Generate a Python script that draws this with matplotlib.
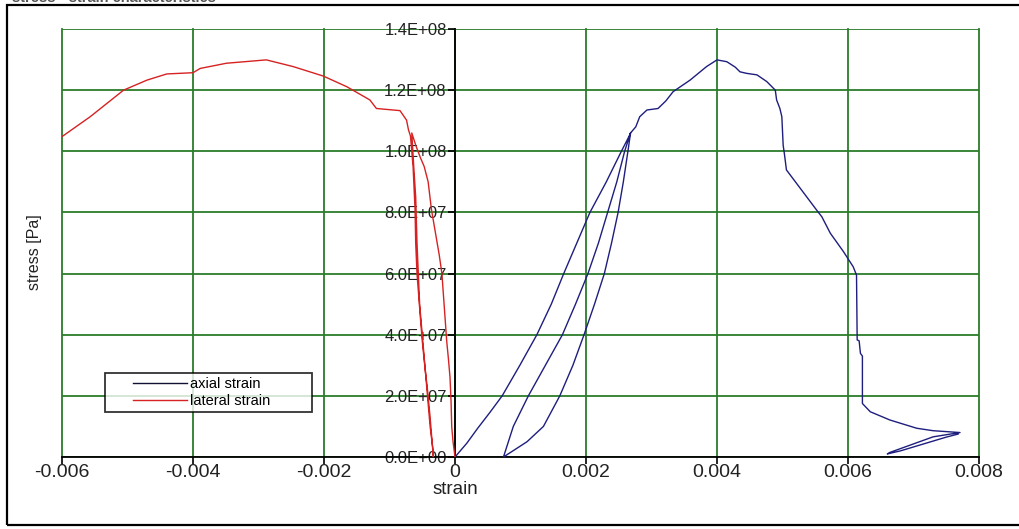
import matplotlib
matplotlib.use("Agg")
import matplotlib.pyplot as plt
from matplotlib.patches import Rectangle
from matplotlib.ticker import FuncFormatter
from matplotlib.legend_handler import HandlerLine2D
from matplotlib.lines import Line2D

plt.rcParams['font.family'] = ['Liberation Sans', 'DejaVu Sans']
plt.rcParams['axes.unicode_minus'] = False

# ---------------- data ----------------
axial_strain = [
    0.0, 0.00018, 0.00035, 0.00053, 0.00072, 0.00099, 0.00125, 0.00147, 0.00166,
    0.00186, 0.00206, 0.00231, 0.00254, 0.00266,
    0.00268, 0.00264, 0.00257, 0.00249, 0.00239, 0.00228, 0.00213, 0.00197,
    0.0018, 0.0016, 0.00135, 0.0011, 0.00074,
    0.00089, 0.00112, 0.00138, 0.00164, 0.00184, 0.00203, 0.00219, 0.00233,
    0.00247, 0.00259, 0.00268,
    0.00276, 0.00282, 0.00293, 0.0031, 0.00322, 0.00333, 0.00359, 0.00384,
    0.0040, 0.00415, 0.00428, 0.00435, 0.00445, 0.00461, 0.00476, 0.00489,
    0.00491, 0.00496, 0.00499, 0.00501, 0.00503, 0.00506, 0.00512, 0.00532,
    0.00552, 0.0056, 0.00573, 0.00593, 0.00608, 0.00613, 0.00614, 0.00617,
    0.00619, 0.00622, 0.00622, 0.00634, 0.00664, 0.00705, 0.0073, 0.00771,
    0.0073, 0.00664, 0.0066, 0.0068, 0.0075, 0.00768,
]
axial_stress = [
    0.0, 0.45e7, 0.95e7, 1.45e7, 2.0e7, 3.0e7, 4.0e7, 5.0e7, 6.0e7,
    7.0e7, 8.0e7, 9.0e7, 1.0e8, 1.05e8,
    1.06e8, 1.0e8, 9.0e7, 8.0e7, 7.0e7, 6.0e7, 5.0e7, 4.0e7,
    3.0e7, 2.0e7, 1.0e7, 0.5e7, 0.0,
    1.0e7, 2.0e7, 3.0e7, 4.0e7, 5.0e7, 6.0e7, 7.0e7, 8.0e7,
    9.0e7, 1.0e8, 1.06e8,
    1.08e8, 1.113e8, 1.135e8, 1.14e8, 1.165e8, 1.195e8, 1.233e8, 1.277e8,
    1.299e8, 1.293e8, 1.275e8, 1.26e8, 1.255e8, 1.25e8, 1.228e8, 1.2e8,
    1.168e8, 1.14e8, 1.113e8, 1.02e8, 0.99e8, 0.939e8, 0.922e8, 0.865e8,
    0.808e8, 0.786e8, 0.732e8, 0.672e8, 0.622e8, 0.595e8, 0.383e8, 0.38e8,
    0.339e8, 0.33e8, 0.175e8, 0.148e8, 0.121e8, 0.094e8, 0.086e8, 0.08e8,
    0.066e8, 0.015e8, 0.01e8, 0.02e8, 0.065e8, 0.075e8,
]

lateral_strain = [
    0.0, -0.00003, -0.00005, -0.00006, -0.000076, -0.0001, -0.000127, -0.00016,
    -0.0002, -0.00024, -0.00028, -0.00036, -0.00041, -0.00047, -0.00053,
    -0.0006, -0.00066,
    -0.00063, -0.0006, -0.00058, -0.00056, -0.00054, -0.0005, -0.00046,
    -0.00042, -0.00038, -0.00034, -0.00033,
    -0.00035, -0.00038, -0.00042, -0.00046, -0.0005, -0.00053, -0.00058,
    -0.0006, -0.00061, -0.00064, -0.00068, -0.00071, -0.00074, -0.00084,
    -0.0012, -0.0013, -0.00165, -0.00201, -0.00247, -0.00288, -0.00349,
    -0.00389, -0.004, -0.0044, -0.0047, -0.00506, -0.00557, -0.006, -0.0062,
]
lateral_stress = [
    0.0, 0.5e7, 1.0e7, 1.8e7, 2.6e7, 3.2e7, 3.8e7, 4.8e7,
    6.0e7, 6.6e7, 7.1e7, 8.1e7, 9.0e7, 9.5e7, 9.8e7,
    1.02e8, 1.06e8,
    9.5e7, 8.5e7, 7.0e7, 6.0e7, 5.0e7, 4.0e7, 3.0e7,
    2.0e7, 1.0e7, 0.3e7, 0.0,
    0.5e7, 1.3e7, 2.2e7, 2.95e7, 3.8e7, 4.6e7, 6.0e7,
    7.0e7, 8.1e7, 9.5e7, 1.05e8, 1.07e8, 1.102e8, 1.133e8,
    1.14e8, 1.168e8, 1.211e8, 1.246e8, 1.277e8, 1.299e8, 1.288e8,
    1.271e8, 1.257e8, 1.253e8, 1.233e8, 1.2e8, 1.113e8, 1.048e8, 1.01e8,
]

x_ticks = [-0.006, -0.004, -0.002, 0.0, 0.002, 0.004, 0.006, 0.008]
x_tick_labels = ["-0.006", "-0.004", "-0.002", "0", "0.002", "0.004", "0.006", "0.008"]
y_ticks = [0.0, 2e7, 4e7, 6e7, 8e7, 1.0e8, 1.2e8, 1.4e8]

# ---------------- figure ----------------
W, H = 1020, 529
fig = plt.figure(figsize=(W / 100, H / 100), dpi=100)
ax = fig.add_axes([62 / W, 1 - 457 / H, (979 - 62) / W, (457 - 29) / H])

grid_green = '#2a7d2a'
ax.plot(axial_strain, axial_stress, color='#1e1e7e', lw=1.0, label='axial strain', zorder=3)
ax.plot(lateral_strain, lateral_stress, color='#d62222', lw=1.0, label='lateral strain', zorder=3)

ax.set_xlim(-0.006, 0.008)
ax.set_ylim(0, 1.4e8)
ax.set_xticks(x_ticks)
ax.set_xticklabels(x_tick_labels)
ax.set_yticks(y_ticks)
ax.yaxis.set_major_formatter(FuncFormatter(lambda v, p: "%.1E" % v))

ax.set_axisbelow(True)
ax.grid(True, color=grid_green, lw=1.3)
for gl in ax.get_xgridlines() + ax.get_ygridlines():
    gl.set_clip_on(False)

for s in ('top', 'right'):
    ax.spines[s].set_visible(False)
ax.spines['left'].set_position(('data', 0))
ax.spines['left'].set_linewidth(1.3)
ax.spines['bottom'].set_linewidth(1.3)
ax.spines['left'].set_zorder(2.5)
ax.spines['bottom'].set_zorder(2.5)

ax.tick_params(axis='x', direction='out', length=5, width=1.2, pad=0,
               labelsize=14, colors='black', labelcolor='#222222')
ax.tick_params(axis='y', direction='out', length=5, width=1.2, pad=1,
               labelsize=12, colors='black', labelcolor='#222222')

ax.set_xlabel('strain', fontsize=13.5, color='#222222')
ax.xaxis.set_label_coords((455 - 62) / (979 - 62), (457 - 481) / (457 - 29))
ax.xaxis.label.set_va('top')

fig.text(35 / W, 1 - 252 / H, 'stress [Pa]', rotation=90, ha='center', va='center',
         fontsize=11.5, color='#222222')

# legend with the handle line inset from the frame, as in the reference
fs_leg = 10.5
fs_px = fs_leg * 100 / 72
bpad = 0.3
box_start = 105 + bpad * fs_px
hlen = (187 - box_start) / fs_px
xpad = (133 - box_start) / fs_px
hmap = {Line2D: HandlerLine2D(xpad=xpad)}
leg = ax.legend(loc='lower left',
                bbox_to_anchor=((105 - 62) / 917, (457 - 412) / 428, (312 - 105) / 917, 0.01),
                mode='expand', frameon=True, fancybox=False, fontsize=fs_leg,
                handlelength=hlen, handletextpad=0.2, borderpad=bpad, labelspacing=0.15,
                borderaxespad=0, handler_map=hmap)
leg.get_frame().set_edgecolor('black')
leg.get_frame().set_linewidth(1.3)
leg.get_lines()[0].set_color('#111133')

# outer chart border and clipped title
fig.add_artist(Rectangle((7 / W, 1 - 525 / H), (1040 - 7) / W, (525 - 5) / H,
                         transform=fig.transFigure, fill=False, ec='black', lw=1.6))
fig.text(12 / W, 1 - 1.5 / H, 'stress - strain characteristics', ha='left', va='baseline',
         fontsize=10.5, fontweight='bold', color='#555555')

fig.savefig('out.png', dpi=100)
